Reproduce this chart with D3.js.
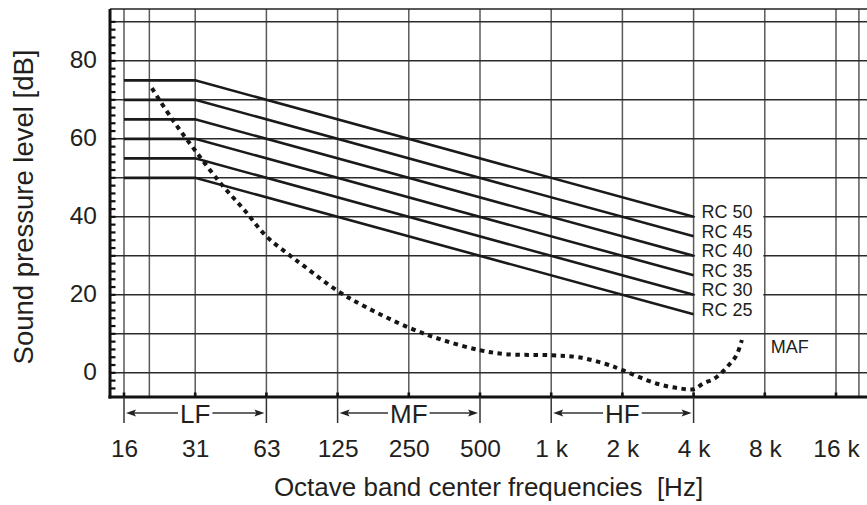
<!DOCTYPE html>
<html><head><meta charset="utf-8">
<script src="https://cdn.jsdelivr.net/npm/d3@7"></script>
<style>
html,body{margin:0;padding:0;background:#fff;}
svg{display:block;font-family:"Liberation Sans",Arial,Helvetica,sans-serif;}
</style></head><body>
<svg id="chart" width="867" height="505"></svg>
<script>
// ---- data ----
const octaveFreqs = [15.625, 31.25, 62.5, 125, 250, 500, 1000, 2000, 4000, 8000, 16000];
const octaveLabels = ["16", "31", "63", "125", "250", "500", "1 k", "2 k", "4 k", "8 k", "16 k"];
const extraGridFreqs = [20, 20000];
const yTickValues = [0, 20, 40, 60, 80];
const yGridValues = [0, 10, 20, 30, 40, 50, 60, 70, 80, 90];
const yMinorTicks = d3.range(-4, 91, 2);

const rcNames = ["RC 50", "RC 45", "RC 40", "RC 35", "RC 30", "RC 25"];
const rcFreqs = [15.625, 31.25, 4000];
const rcLevels = [
  [75, 75, 40],
  [70, 70, 35],
  [65, 65, 30],
  [60, 60, 25],
  [55, 55, 20],
  [50, 50, 15]
];

const mafFreqs  = [20.5, 25, 31.25, 40, 50, 62.5, 77, 90, 125, 163, 250, 348, 500, 644, 1000, 1300, 1716, 2000, 2800, 3500, 4000, 4400, 4860, 5250, 5640, 6070, 6400];
const mafLevels = [73, 65, 57, 48.6, 42, 35, 30.5, 27.4, 21, 17, 11.6, 8.4, 5.8, 4.8, 4.5, 4.0, 2.2, 0.7, -2.8, -4, -4.2, -2.7, -1.6, 0, 2, 4.5, 8.4];
const mafLabel = "MAF";

const bandNames = ["LF", "MF", "HF"];
const bandStarts = [15.625, 125, 1000];
const bandEnds = [62.5, 500, 4000];

const xTitle = "Octave band center frequencies  [Hz]";
const yTitle = "Sound pressure level [dB]";

// ---- layout ----
const W = 867, H = 505;
const plotLeft = 110, plotRight = 867, plotTop = 9, plotBottom = 397;
const textColor = "#231f20";

const x = d3.scaleLog().base(2).domain([15.625, 16000]).range([124, 836]);
const y = d3.scaleLinear().domain([-6.2, 93.3]).range([plotBottom, plotTop]);

const svg = d3.select("#chart");
svg.append("rect").attr("width", W).attr("height", H).attr("fill", "#fff");

// vertical grid lines
const vFreqs = octaveFreqs.concat(extraGridFreqs);
svg.append("g").selectAll("line").data(vFreqs).join("line")
  .attr("x1", d => x(d)).attr("x2", d => x(d))
  .attr("y1", plotTop).attr("y2", plotBottom)
  .attr("stroke", "#5a5a5a").attr("stroke-width", 1.5);

// horizontal grid lines
svg.append("g").selectAll("line").data(yGridValues).join("line")
  .attr("x1", plotLeft).attr("x2", plotRight)
  .attr("y1", d => y(d)).attr("y2", d => y(d))
  .attr("stroke", "#2b2b2b").attr("stroke-width", 1.5);

// top border
svg.append("line").attr("x1", plotLeft).attr("x2", plotRight)
  .attr("y1", plotTop).attr("y2", plotTop)
  .attr("stroke", "#222").attr("stroke-width", 1.5);

// white box behind RC labels
svg.append("rect")
  .attr("x", x(4000) + 1.5).attr("y", y(44.5))
  .attr("width", x(8000) - x(4000) - 3).attr("height", y(12) - y(44.5))
  .attr("fill", "#fff");

// RC lines
const rcLine = d3.line().x((d, i) => x(rcFreqs[i])).y(d => y(d));
svg.append("g").selectAll("path").data(rcLevels).join("path")
  .attr("d", d => rcLine(d))
  .attr("fill", "none").attr("stroke", "#1a1a1a").attr("stroke-width", 2.6);

// RC labels
svg.append("g").selectAll("text").data(rcNames).join("text")
  .attr("x", x(4000) + 8)
  .attr("y", (d, i) => y(rcLevels[i][2]) + 1.5)
  .attr("font-size", 18).attr("fill", textColor)
  .text(d => d);

// MAF curve
const mafLine = d3.line().x((d, i) => x(mafFreqs[i])).y(d => y(d))
  .curve(d3.curveCatmullRom.alpha(0.5));
svg.append("path").attr("d", mafLine(mafLevels))
  .attr("fill", "none").attr("stroke", "#151515")
  .attr("stroke-width", 4).attr("stroke-dasharray", "4.5,4.5");

svg.append("text").attr("x", x(8000) + 6).attr("y", y(5))
  .attr("font-size", 18).attr("fill", textColor).text(mafLabel);

// axes lines
svg.append("line").attr("x1", plotLeft).attr("x2", plotLeft)
  .attr("y1", plotTop).attr("y2", plotBottom + 1.5)
  .attr("stroke", "#111").attr("stroke-width", 3);
svg.append("line").attr("x1", plotLeft - 1.5).attr("x2", plotRight)
  .attr("y1", plotBottom).attr("y2", plotBottom)
  .attr("stroke", "#111").attr("stroke-width", 3);

// y minor ticks
svg.append("g").selectAll("line").data(yMinorTicks).join("line")
  .attr("x1", plotLeft).attr("x2", plotLeft + 5.5)
  .attr("y1", d => y(d)).attr("y2", d => y(d))
  .attr("stroke", "#111").attr("stroke-width", 2.2);

// x ticks on axis
svg.append("g").selectAll("line").data(octaveFreqs).join("line")
  .attr("x1", d => x(d)).attr("x2", d => x(d))
  .attr("y1", plotBottom).attr("y2", plotBottom - 4.5)
  .attr("stroke", "#111").attr("stroke-width", 2.6);

// y axis labels (via d3 axis)
const yAxis = d3.axisLeft(y).tickValues(yTickValues).tickSize(0).tickPadding(0);
const gy = svg.append("g").attr("transform", `translate(97,0)`).call(yAxis);
gy.select(".domain").remove();
gy.selectAll("text").attr("font-size", 24.5).attr("font-family", null)
  .attr("fill", textColor).attr("x", 0).attr("dy", null)
  .attr("dominant-baseline", "auto")
  .attr("transform", "translate(0,6.5)");

// x axis labels
const xAxis = d3.axisBottom(x).tickValues(octaveFreqs)
  .tickFormat((d, i) => octaveLabels[i]).tickSize(0).tickPadding(0);
const gx = svg.append("g").attr("transform", `translate(0,457)`).call(xAxis);
gx.select(".domain").remove();
gx.selectAll("text").attr("font-size", 24.5).attr("font-family", null)
  .attr("fill", textColor).attr("y", 0).attr("dy", null)
  .style("white-space", "pre");

// band brackets
const bandY = 413;
const bg = svg.append("g");
bandNames.forEach((name, i) => {
  const x0 = x(bandStarts[i]), x1 = x(bandEnds[i]);
  [x0, x1].forEach(xx => {
    bg.append("line").attr("x1", xx).attr("x2", xx)
      .attr("y1", plotBottom).attr("y2", 423)
      .attr("stroke", "#333").attr("stroke-width", 1.5);
  });
  const t = bg.append("text").attr("x", (x0 + x1) / 2).attr("y", bandY + 9.5)
    .attr("text-anchor", "middle").attr("font-size", 26).attr("fill", textColor)
    .text(name);
  const tw = t.node().getComputedTextLength();
  const tl = (x0 + x1) / 2 - tw / 2 - 2, tr = (x0 + x1) / 2 + tw / 2 + 2;
  const ax0 = x0 + 2, ax1 = x1 - 2;
  bg.append("line").attr("x1", ax0 + 6).attr("x2", tl).attr("y1", bandY).attr("y2", bandY)
    .attr("stroke", "#333").attr("stroke-width", 1.3);
  bg.append("line").attr("x1", tr).attr("x2", ax1 - 6).attr("y1", bandY).attr("y2", bandY)
    .attr("stroke", "#333").attr("stroke-width", 1.3);
  bg.append("path").attr("d", `M${ax0},${bandY} L${ax0 + 10},${bandY - 3.5} L${ax0 + 8},${bandY} L${ax0 + 10},${bandY + 3.5} Z`)
    .attr("fill", "#222");
  bg.append("path").attr("d", `M${ax1},${bandY} L${ax1 - 10},${bandY - 3.5} L${ax1 - 8},${bandY} L${ax1 - 10},${bandY + 3.5} Z`)
    .attr("fill", "#222");
});

// axis titles
svg.append("text").attr("x", (plotLeft + plotRight) / 2).attr("y", 496)
  .attr("text-anchor", "middle").attr("font-size", 26).attr("fill", textColor)
  .style("white-space", "pre").text(xTitle);

svg.append("text").attr("transform", `translate(33,207) rotate(-90)`)
  .attr("text-anchor", "middle").attr("font-size", 27.5).attr("fill", textColor)
  .text(yTitle);
</script>
</body></html>
